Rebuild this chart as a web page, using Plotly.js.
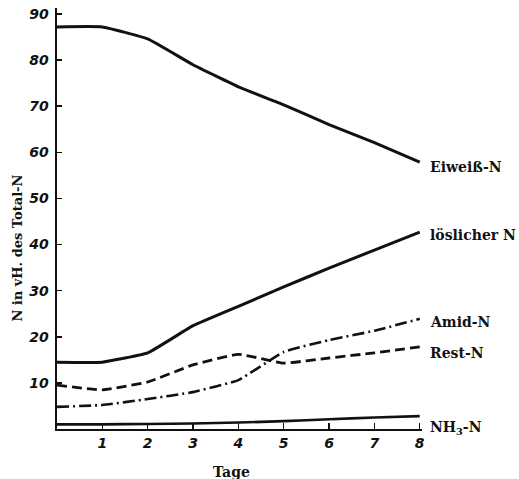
<!DOCTYPE html>
<html>
<head>
<meta charset="utf-8">
<script src="https://cdn.plot.ly/plotly-3.0.1.min.js"></script>
<style>html,body{margin:0;padding:0;background:#fff;}#chart{width:519px;height:479px;}</style>
</head>
<body>
<div id="chart"></div>
<script>
const days = [0, 1, 2, 3, 4, 5, 6, 7, 8];
const eiweissN = [87.2, 87.2, 84.6, 79, 74.2, 70.3, 66, 62.1, 57.9];
const loeslicherN = [14.5, 14.5, 16.5, 22.4, 26.6, 30.8, 34.9, 38.8, 42.7];
const amidN = [4.8, 5.2, 6.5, 8, 10.6, 16.7, 19.3, 21.3, 23.9];
const restN = [9.5, 8.5, 10.2, 13.9, 16.2, 14.3, 15.4, 16.5, 17.8];
const nh3N = [1, 1, 1.1, 1.2, 1.4, 1.7, 2.1, 2.5, 2.8];
const seriesNames = ['Eiweiß-N', 'löslicher N', 'Amid-N', 'Rest-N', 'NH<sub>3</sub>-N'];
const labelY = [56.8, 42, 23.2, 16.5, 0.2];
const xTickVals = [1, 2, 3, 4, 5, 6, 7, 8];
const yTickVals = [10, 20, 30, 40, 50, 60, 70, 80, 90];

const ink = '#111';
const seriesData = [eiweissN, loeslicherN, amidN, restN, nh3N];
const dashes = ['solid', 'solid', '12px,4px,2px,4px', '10px,5px', 'solid'];
const widths = [3, 3, 2.6, 2.8, 2.6];

const traces = seriesData.map((ys, i) => ({
  x: days, y: ys, type: 'scatter', mode: 'lines', name: seriesNames[i],
  line: {color: ink, width: widths[i], dash: dashes[i], shape: 'spline', smoothing: 0.35},
  hoverinfo: 'skip'
}));

const serif = '"DejaVu Serif", "Liberation Serif", serif';
const annotations = seriesNames.map((n, i) => ({
  x: 8, y: labelY[i], xref: 'x', yref: 'y', text: n, showarrow: false,
  xanchor: 'left', yanchor: 'middle', xshift: 8,
  font: {family: serif, size: 14, color: ink, weight: 'bold'}
}));
annotations.push({
  x: -0.108, y: 0.43, xref: 'paper', yref: 'paper', text: 'N in vH. des Total-N',
  showarrow: false, textangle: -90, xanchor: 'center', yanchor: 'middle',
  font: {family: serif, size: 13, color: ink, weight: 'bold'}
});
annotations.push({
  x: 0.477, y: 0, xref: 'paper', yref: 'paper', text: 'Tage', showarrow: false,
  xanchor: 'center', yanchor: 'middle', yshift: -43,
  font: {family: serif, size: 14, color: ink, weight: 'bold'}
});

const tickFont = {family: '"DejaVu Sans", sans-serif', size: 14, color: ink, style: 'italic', weight: 'bold'};

const layout = {
  width: 519, height: 479,
  margin: {l: 57, r: 97, t: 8, b: 50},
  paper_bgcolor: '#fff', plot_bgcolor: '#fff',
  showlegend: false,
  xaxis: {
    range: [0, 8.05], tickvals: xTickVals, ticktext: xTickVals.map(String),
    ticks: 'inside', ticklen: 6, tickwidth: 1.5, tickcolor: ink,
    showgrid: false, zeroline: false, showline: true, linecolor: ink, linewidth: 2,
    tickfont: tickFont, fixedrange: true
  },
  yaxis: {
    range: [0, 91.3], tickvals: yTickVals, ticktext: yTickVals.map(String),
    ticks: 'inside', ticklen: 5, tickwidth: 1.5, tickcolor: ink,
    showgrid: false, zeroline: false, showline: true, linecolor: ink, linewidth: 2.5,
    tickfont: tickFont, ticklabelstandoff: 3, fixedrange: true
  },
  annotations: annotations
};

Plotly.newPlot('chart', traces, layout, {staticPlot: true, displayModeBar: false});
</script>
</body>
</html>
